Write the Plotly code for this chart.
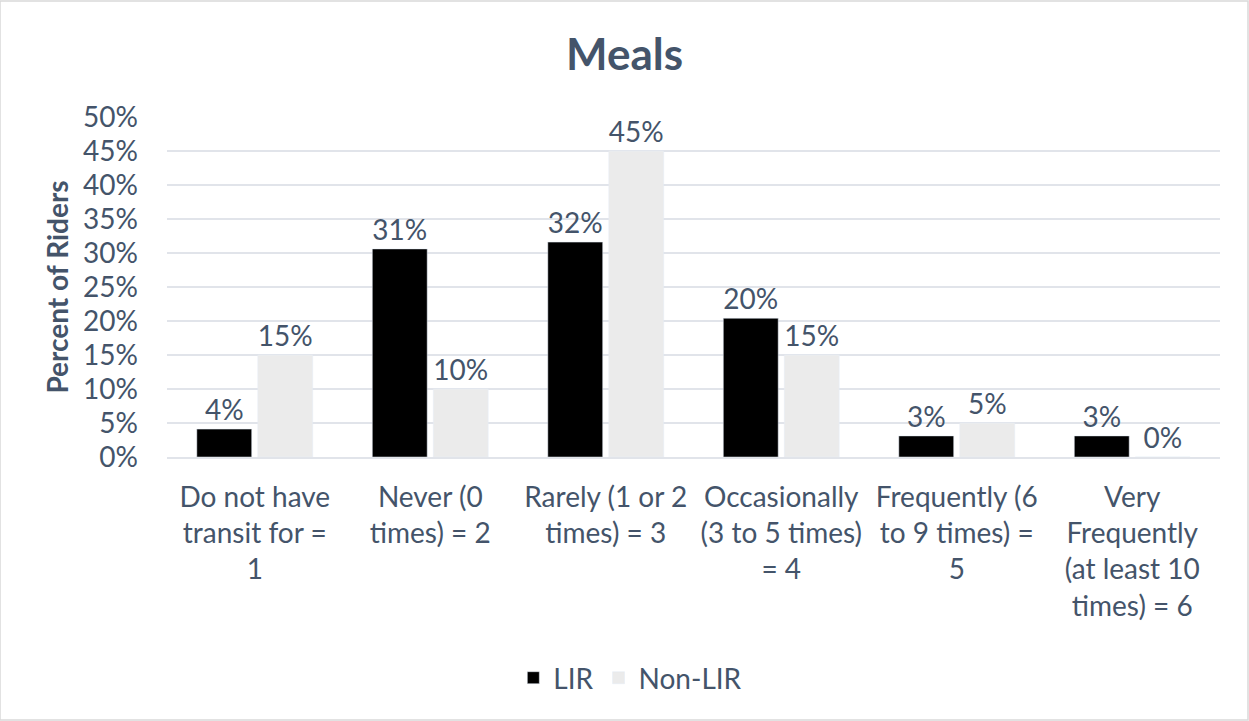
import plotly.graph_objects as go

categories = [
    "Do not have<br>transit for =<br>1",
    "Never (0<br>times) = 2",
    "Rarely (1 or 2<br>times) = 3",
    "Occasionally<br>(3 to 5 times)<br>= 4",
    "Frequently (6<br>to 9 times) =<br>5",
    "Very<br>Frequently<br>(at least 10<br>times) = 6",
]
lir = [4.1, 30.6, 31.6, 20.4, 3.1, 3.1]
lir_labels = ["4%", "31%", "32%", "20%", "3%", "3%"]
non_lir = [15, 10, 45, 15, 5, 0]
non_lir_labels = ["15%", "10%", "45%", "15%", "5%", "0%"]
y_ticks = [0, 5, 10, 15, 20, 25, 30, 35, 40, 45, 50]

FONT = "Lato, Carlito, sans-serif"
TXT = "#44546A"
FS = 28

fig = go.Figure()
fig.add_trace(go.Bar(
    name="LIR", x=categories, y=lir, text=lir_labels, textposition="outside",
    marker=dict(color="#000000"), textfont=dict(size=FS, color=TXT, family=FONT),
    cliponaxis=False,
))
fig.add_trace(go.Bar(
    name="Non-LIR", x=categories, y=non_lir, text=non_lir_labels, textposition="outside",
    marker=dict(color="#EBEBEB"), textfont=dict(size=FS, color=TXT, family=FONT),
    cliponaxis=False,
))

fig.update_layout(
    width=1249, height=721,
    paper_bgcolor="white", plot_bgcolor="white",
    margin=dict(l=167, r=29, t=117, b=264),
    barmode="group", bargap=0.305, bargroupgap=0.1,
    font=dict(family=FONT, color=TXT, size=FS),
    title=dict(text="<b>Meals</b>", x=0.5, xanchor="center", y=0.924, yanchor="middle",
               font=dict(size=44, color=TXT, family=FONT)),
    legend=dict(orientation="h", x=0.44, xanchor="center", y=-0.65, yanchor="middle",
                font=dict(size=FS, color=TXT, family=FONT), itemwidth=30),
    uniformtext=dict(mode=False),
)
fig.update_yaxes(
    range=[0, 50], tickvals=y_ticks, ticktext=[f"{v}%" for v in y_ticks],
    showgrid=True, gridcolor="#E1E4EA", gridwidth=2, zeroline=False,
    tickfont=dict(size=FS, color=TXT, family=FONT), ticks="", ticklen=0,
    ticklabelstandoff=28,
    title=dict(text="<b>Percent of Riders</b>", font=dict(size=FS, color=TXT, family=FONT), standoff=6),
    showline=False,
)
fig.update_xaxes(
    showline=True, linecolor="#E1E4EA", linewidth=2,
    tickfont=dict(size=FS, color=TXT, family=FONT), ticks="", ticklen=0,
    ticklabelstandoff=14,
)
fig.add_shape(type="rect", xref="paper", yref="paper",
              x0=-167/1053, x1=1 + 28/1053, y0=-263/340, y1=1 + 116/340,
              line=dict(color="#D9D9D9", width=1.5), fillcolor="rgba(0,0,0,0)")

fig.write_html("out.html")
